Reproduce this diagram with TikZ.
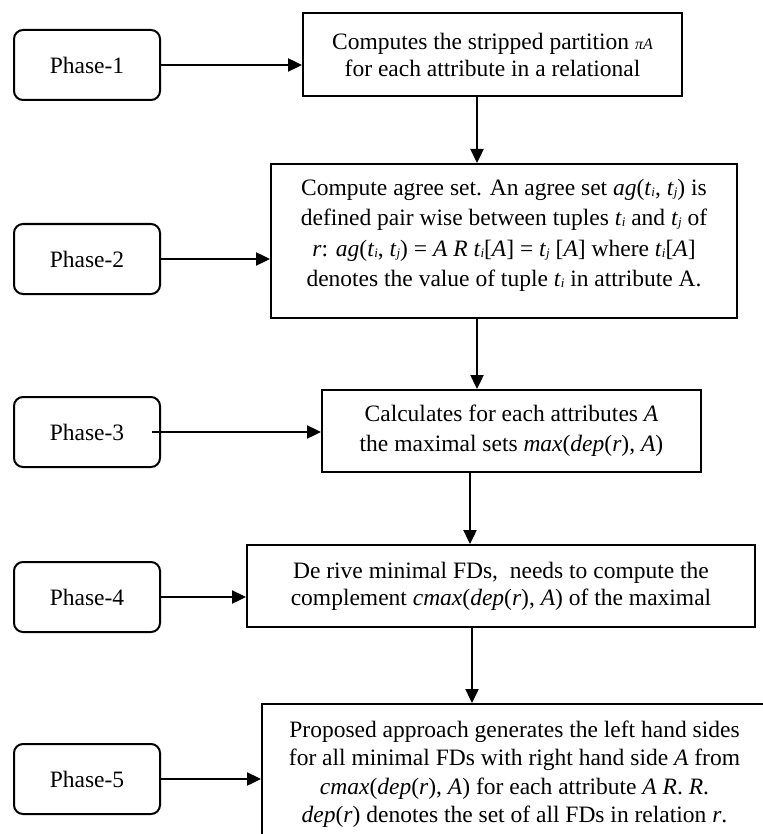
\documentclass[tikz,border=0pt]{standalone}
\usepackage{fontspec}
\setmainfont{Liberation Serif}
\usetikzlibrary{arrows.meta}
\newcommand{\tsub}[1]{\textit{t}\raisebox{-1pt}{\fontsize{13}{13}\selectfont\textit{#1}}}

\begin{document}
\begin{tikzpicture}[x=1pt, y=-1pt,
  phase/.style={rectangle, rounded corners=9pt, draw, line width=2pt, minimum width=146pt, minimum height=70pt, anchor=north west, font=\fontsize{23.5}{27}\selectfont},
  stepbox/.style={rectangle, draw, line width=2pt, anchor=north west, align=center, inner sep=0pt, font=\fontsize{23.5}{27}\selectfont},
  arr/.style={-{Triangle[length=14pt,width=13pt]}, line width=2.4pt}]
\useasboundingbox (0,0) rectangle (762,834);

\node[phase] (p1) at (13,29) {Phase-1};
\node[phase] (p2) at (13,223) {Phase-2};
\node[phase] (p3) at (13,396) {Phase-3};
\node[phase] (p4) at (13,561) {Phase-4};
\node[phase] (p5) at (13,743) {Phase-5};

\node[stepbox, minimum width=379pt, minimum height=83pt] (b1) at (302,12) {Computes the stripped partition {\fontsize{16}{16}\selectfont\textit{πA}}\\ for each attribute in a relational};
\node[stepbox, minimum width=466pt, minimum height=154pt, font=\fontsize{23.5}{30.5}\selectfont] (b2) at (270,163) {Compute agree set. An agree set \textit{ag}(\tsub{i}, \tsub{j}) is\\ defined pair wise between tuples \tsub{i} and \tsub{j} of\\ \textit{r}: \textit{ag}(\tsub{i}, \tsub{j}) = \textit{A R} \tsub{i}[\textit{A}] = \tsub{j} [\textit{A}] where \tsub{i}[\textit{A}]\\ denotes the value of tuple \tsub{i} in attribute A.\\[-14pt]};
\node[stepbox, minimum width=379pt, minimum height=82pt, font=\fontsize{23.5}{30}\selectfont] (b3) at (321,389) {Calculates for each attributes \textit{A}\\ the maximal sets \textit{max}(\textit{dep}(\textit{r}), \textit{A})};
\node[stepbox, minimum width=508pt, minimum height=82pt] (b4) at (246,544) {De rive minimal FDs,~ needs to compute the\\ complement \textit{cmax}(\textit{dep}(\textit{r}), \textit{A}) of the maximal};
\node[stepbox, minimum width=505pt, minimum height=140pt, font=\fontsize{23.5}{28.5}\selectfont] (b5) at (261,703) {Proposed approach generates the left hand sides\\ for all minimal FDs with right hand side \textit{A} from\\ \textit{cmax}(\textit{dep}(\textit{r}), \textit{A}) for each attribute \textit{A R}. \textit{R}.\\ \textit{dep}(\textit{r}) denotes the set of all FDs in relation \textit{r}.};

\draw[arr] (p1.east) -- (p1.east -| b1.west);
\draw[arr] (p2.east) -- (p2.east -| b2.west);
\draw[arr] ([xshift=-9pt]p3.east) -- (p3.east -| b3.west);
\draw[arr] (p4.east) -- (p4.east -| b4.west);
\draw[arr] (p5.east) -- (p5.east -| b5.west);

\coordinate (v1) at (477,0);
\coordinate (v2) at (470,0);
\coordinate (v3) at (472,0);
\draw[arr] (b1.south -| v1) -- (b2.north -| v1);
\draw[arr] (b2.south -| v1) -- (b3.north -| v1);
\draw[arr] (b3.south -| v2) -- (b4.north -| v2);
\draw[arr] (b4.south -| v3) -- (b5.north -| v3);
\end{tikzpicture}
\end{document}
